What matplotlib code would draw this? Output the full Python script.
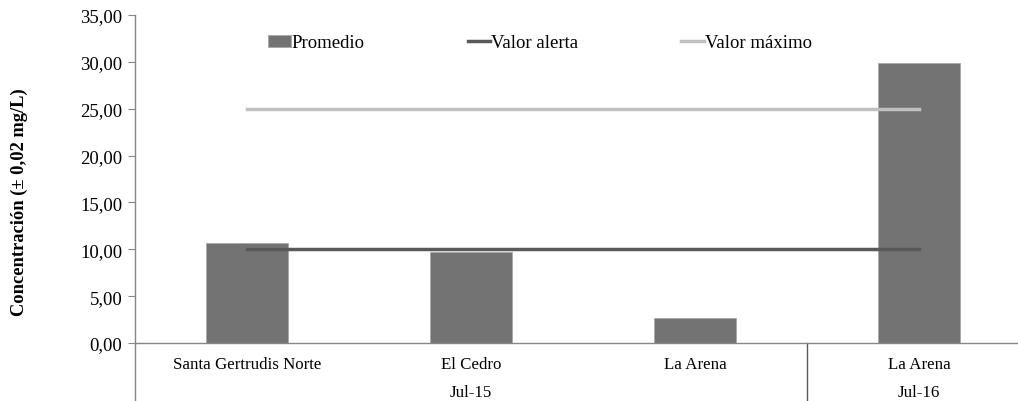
import matplotlib
matplotlib.use("Agg")
import matplotlib.pyplot as plt
import matplotlib.transforms as mtransforms
from matplotlib.ticker import FuncFormatter

# Data
sitios = ["Santa Gertrudis Norte", "El Cedro", "La Arena", "La Arena"]
fechas = ["Jul-15", "Jul-16"]
sitios_por_fecha = [3, 1]
promedio = [10.67, 9.71, 2.63, 29.9]
valor_alerta = [10, 10, 10, 10]
valor_maximo = [25, 25, 25, 25]

plt.rcParams['font.family'] = ['Liberation Serif', 'DejaVu Serif']
plt.rcParams['font.size'] = 12

fig = plt.figure(figsize=(10.18, 4.02), dpi=100)
ax = fig.add_axes([135 / 1018, 58 / 402, 896 / 1018, 328 / 402])

x = list(range(len(sitios)))
barras = ax.bar(x, promedio, width=0.37, color="#737373", edgecolor="#a8a8a8",
                linewidth=0.6, label="Promedio", zorder=2)
l_alerta, = ax.plot(x, valor_alerta, color="#595959", lw=2.5, label="Valor alerta", zorder=3)
l_max, = ax.plot(x, valor_maximo, color="#c0c0c0", lw=2.5, label="Valor máximo", zorder=3)

ax.set_xlim(-0.5, len(sitios) - 0.5)
ax.set_ylim(0, 35)
ax.set_yticks(range(0, 36, 5))
ax.yaxis.set_major_formatter(FuncFormatter(lambda v, p: f"{v:.2f}".replace(".", ",")))
ax.tick_params(axis="y", length=5, color="#868686", labelsize=13.5, pad=4)
ax.set_xticks([])

for s in ["top", "right"]:
    ax.spines[s].set_visible(False)
for s in ["left", "bottom"]:
    ax.spines[s].set_color("#868686")
    ax.spines[s].set_linewidth(1.0)

ax.set_ylabel("Concentración (± 0,02 mg/L)", fontweight="bold", fontsize=13.3)
ax.yaxis.set_label_coords(-0.119, 0.433)

# two-level category axis
trans = mtransforms.blended_transform_factory(ax.transData, ax.transAxes)
ax.plot([0, 0], [0, -0.2], transform=ax.transAxes, color="#868686", lw=1.0, clip_on=False)
for i, nombre in enumerate(sitios):
    ax.text(i, -0.065, nombre, transform=trans, ha="center", va="center", fontsize=12.2)
inicio = 0
for fecha, n in zip(fechas, sitios_por_fecha):
    ax.text(inicio + (n - 1) / 2, -0.148, fecha, transform=trans, ha="center", va="center", fontsize=12.2)
    if inicio > 0:
        ax.plot([inicio - 0.5, inicio - 0.5], [0, -0.2], transform=trans, color="#595959",
                lw=1.0, clip_on=False)
    inicio += n

ax.legend([barras, l_alerta, l_max], ["Promedio", "Valor alerta", "Valor máximo"],
          loc="center", bbox_to_anchor=(540 / 1018, 1 - 44 / 402), bbox_transform=fig.transFigure,
          ncol=3, frameon=False, handlelength=1.2, handletextpad=0.05, columnspacing=5.5,
          fontsize=13.5, handleheight=0.6)

fig.savefig("out.png", dpi=100)
